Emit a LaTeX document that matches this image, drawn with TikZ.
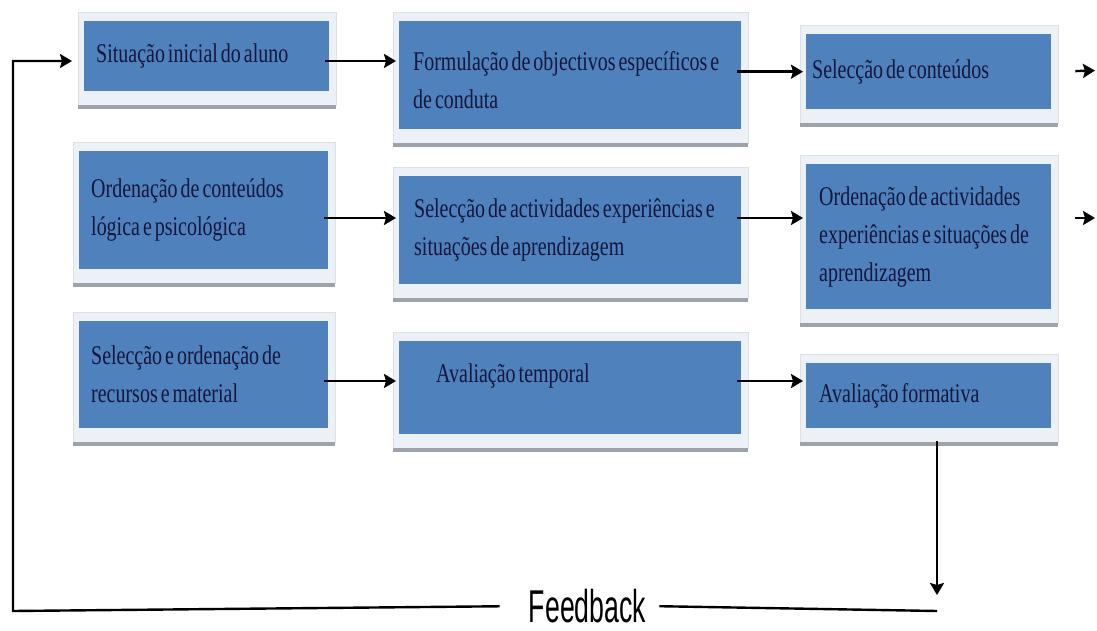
\documentclass[tikz,border=0pt]{standalone}
\usepackage{fontspec}
\newfontfamily\boxfont[FakeStretch=0.74,WordSpace=0.6]{Liberation Serif}
\newfontfamily\fbfont[FakeStretch=0.58]{Liberation Sans}
\usetikzlibrary{arrows.meta,backgrounds,calc}
\definecolor{boxblue}{RGB}{79,129,189}
\definecolor{boxtext}{RGB}{20,22,60}
\definecolor{boxframe}{RGB}{236,241,248}
\definecolor{boxshadow}{RGB}{158,162,170}

\begin{document}
\begin{tikzpicture}[x=1pt,y=-1pt,>={Stealth[length=12pt,width=14pt,inset=2pt]},
                    line width=2.4pt]
  \tikzstyle{stage}=[rectangle,fill=boxblue,text=boxtext,anchor=north west,
                     align=flush left,inner ysep=4pt,
                     font=\boxfont\fontsize{27}{38}\selectfont]
  \tikzstyle{link}=[->,shorten <=-5pt,shorten >=2pt]
  \useasboundingbox (0,0) rectangle (1097,631);

  \node[stage,minimum width=245pt,minimum height=70pt,inner xsep=12pt,text width=221pt]
        (A) at (83,20)   {Situação inicial do aluno};
  \node[stage,minimum width=342pt,minimum height=108pt,inner xsep=14pt,text width=314pt,
        text height=28pt]
        (B) at (398,20)  {Formulação de objectivos específicos e\\de conduta};
  \node[stage,minimum width=245pt,minimum height=75pt,inner xsep=6pt,text width=233pt]
        (C) at (805,33)  {Selecção de conteúdos};
  \node[stage,minimum width=249pt,minimum height=118pt,inner xsep=12pt,text width=225pt]
        (D) at (78,150)  {Ordenação de conteúdos\\lógica e psicológica};
  \node[stage,minimum width=342pt,minimum height=108pt,inner xsep=15pt,text width=312pt]
        (E) at (398,175) {Selecção de actividades experiências e\\situações de aprendizagem};
  \node[stage,minimum width=245pt,minimum height=145pt,inner xsep=13pt,text width=219pt]
        (F) at (805,163) {Ordenação de actividades\\experiências e situações de\\aprendizagem};
  \node[stage,minimum width=249pt,minimum height=107pt,inner xsep=12pt,text width=225pt]
        (G) at (78,320)  {Selecção e ordenação de\\recursos e material};
  \node[stage,minimum width=342pt,minimum height=93pt,inner xsep=37pt,text width=268pt,
        text depth=29pt]
        (H) at (398,340) {Avaliação temporal};
  \node[stage,minimum width=245pt,minimum height=65pt,inner xsep=13pt,text width=219pt]
        (I) at (805,362) {Avaliação formativa};

  \node[font=\fbfont\fontsize{46}{46}\selectfont,inner sep=0pt]
        (fb) at (587.5,606) {Feedback};

  % frames and shadows behind the boxes
  \begin{scope}[on background layer]
    \foreach \n in {A,B,C,D,E,F,G,H,I} {
      \fill[boxframe,draw=black!12,line width=0.6pt]
        ([shift={(-5,-8)}]\n.north west) rectangle ([shift={(6,13)}]\n.south east);
      \fill[boxshadow]
        ([shift={(-5,13)}]\n.south west) rectangle ([shift={(6,17)}]\n.south east);
    }
  \end{scope}

  \coordinate (r1) at (0,61);
  \coordinate (r2) at (0,218);
  \coordinate (r3) at (0,381);
  \coordinate (Cout) at (1097,70.5);
  \coordinate (Fout) at (1097,218);
  \coordinate (fbT) at (937,595);
  \coordinate (fbR) at (937,611);
  \coordinate (fbL) at (13,611);

  \draw[link] (A.east |- r1) -- (B.west |- r1);
  \draw[link] (B.east |- C.west) -- (C.west);
  \draw[link,shorten <=23pt] (C.east) -- (Cout);
  \draw[link] (D.east |- r2) -- (E.west |- r2);
  \draw[link] (E.east |- r2) -- (F.west |- r2);
  \draw[link,shorten <=23pt] (F.east |- Fout) -- (Fout);
  \draw[link] (G.east |- r3) -- (H.west |- r3);
  \draw[link] (H.east |- r3) -- (I.west |- r3);

  % feedback loop
  \draw[->,shorten <=12pt] (I.south -| fbT) -- (fbT);
  \draw[shorten >=12pt] (fbR) -- (fb.east);
  \draw[->,shorten <=28pt,shorten >=11pt] (fb.west) -- (fbL) |- (A.west |- r1);
\end{tikzpicture}
\end{document}
